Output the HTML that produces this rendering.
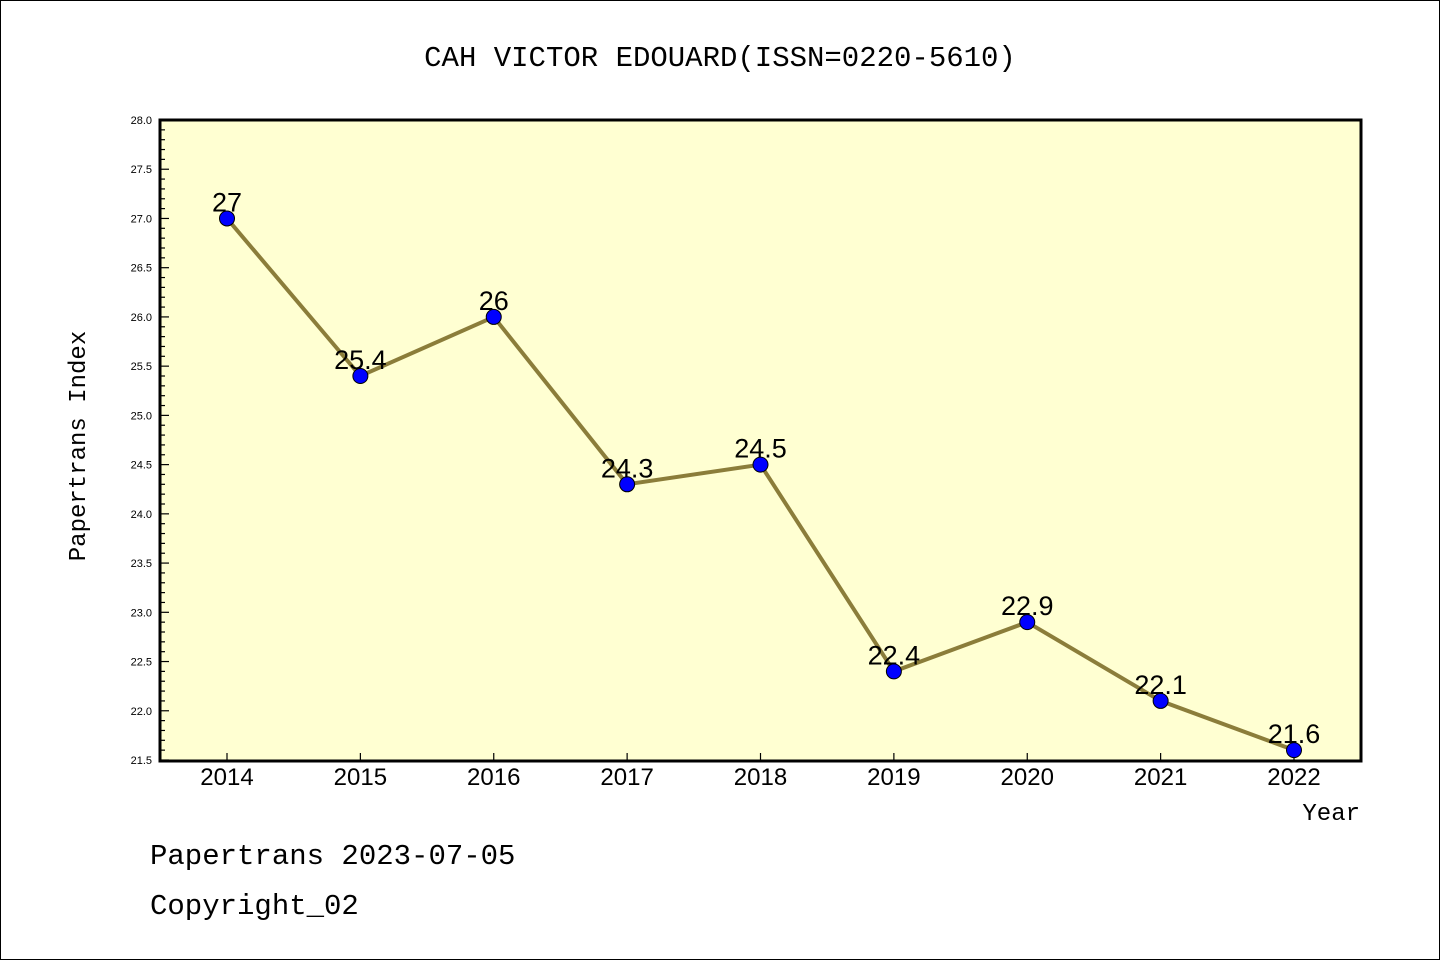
<!DOCTYPE html>
<html><head><meta charset="utf-8"><style>
body{margin:0;background:#fff}
svg{display:block;font-family:"Liberation Mono","DejaVu Sans Mono",monospace}
</style></head><body>
<svg id="chart" width="1440" height="960">
<rect x="0.5" y="0.5" width="1439" height="959" fill="#fff" stroke="#000"/>
<text x="720" y="66" text-anchor="middle" font-size="29">CAH VICTOR EDOUARD(ISSN=0220-5610)</text>
<rect x="160" y="120" width="1201" height="641" fill="#ffffd2"/>
<g id="axes"></g>
<g id="series"></g>
<rect x="160" y="120" width="1201" height="641" fill="none" stroke="#000" stroke-width="3"/>
<text x="85" y="446" transform="rotate(-90 85 446)" text-anchor="middle" font-size="24">Papertrans Index</text>
<text x="1360" y="820" text-anchor="end" font-size="24">Year</text>
<text x="150" y="864" font-size="29">Papertrans 2023-07-05</text>
<text x="150" y="914" font-size="29">Copyright_02</text>
</svg>
<script>
const years=[2014,2015,2016,2017,2018,2019,2020,2021,2022];
const values=[27,25.4,26,24.3,24.5,22.4,22.9,22.1,21.6];
const labels=["27","25.4","26","24.3","24.5","22.4","22.9","22.1","21.6"];
const yTicks=["21.5","22.0","22.5","23.0","23.5","24.0","24.5","25.0","25.5","26.0","26.5","27.0","27.5","28.0"];
const NS="http://www.w3.org/2000/svg";
const yMin=21.5,yMax=28;
function yS(v){return 760-(v-yMin)/(yMax-yMin)*640;}
function xS(i){return 227+i*(1294-227)/(years.length-1);}
function mk(t,a,p){const e=document.createElementNS(NS,t);for(const k in a)e.setAttribute(k,a[k]);p.appendChild(e);return e;}
const ax=document.getElementById('axes'),sr=document.getElementById('series');
for(let k=0;k<=Math.round((yMax-yMin)*10);k++){
  const v=yMin+k*0.1,y=yS(v),major=k%5===0;
  const t=mk('line',{x1:160,x2:major?169:165,y1:y,y2:y,stroke:'#000','stroke-width':1.2},ax);
  
  
}
yTicks.forEach(s=>{
  const tx=mk('text',{x:152,y:yS(parseFloat(s))+4,'text-anchor':'end','font-size':11,'font-family':'Liberation Sans,sans-serif'},ax);
  tx.textContent=s;
  
  
});
years.forEach((yr,i)=>{
  const t=mk('line',{x1:xS(i),x2:xS(i),y1:760,y2:753,stroke:'#000','stroke-width':1.2},ax);
  
  
  const tx=mk('text',{x:xS(i),y:785,'text-anchor':'middle','font-size':24,'font-family':'Liberation Sans,sans-serif'},ax);
  tx.textContent=yr;
  
  
});
const pl=mk('polyline',{points:values.map((v,i)=>xS(i)+','+yS(v)).join(' '),fill:'none',stroke:'#8b7d3a','stroke-width':4},sr);


values.forEach((v,i)=>{
  const c=mk('circle',{cx:xS(i),cy:yS(v),r:7.5,fill:'#0000ff',stroke:'#000','stroke-width':1},sr);
  
  
  const tx=mk('text',{x:xS(i),y:yS(v)-7,'text-anchor':'middle','font-size':27,'font-family':'Liberation Sans,sans-serif'},sr);
  tx.textContent=labels[i];
  
  
});
</script>
</body></html>
